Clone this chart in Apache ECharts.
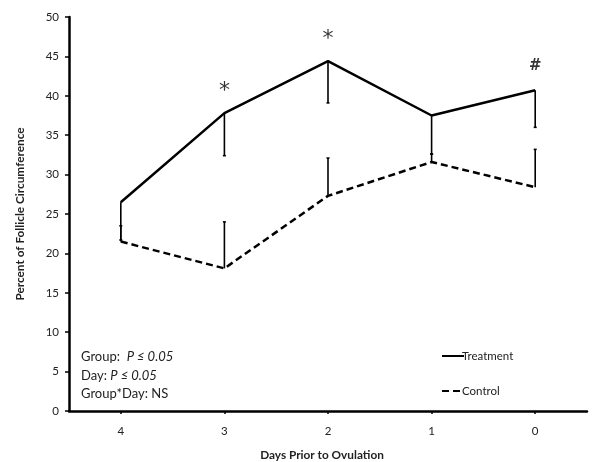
<!DOCTYPE html>
<html><head><meta charset="utf-8">
<script src="https://cdn.jsdelivr.net/npm/echarts@6/dist/echarts.min.js"></script>
<style>html,body{margin:0;padding:0;background:#fff}#c{width:594px;height:462px}</style>
</head><body><div id="c"></div>
<script>
const days = ['4', '3', '2', '1', '0'];
const treatment = [26.5, 37.8, 44.4, 37.5, 40.7];
const treatmentErrLow = [21.7, 32.4, 39.1, 32.6, 36.0];
const control = [21.5, 18.1, 27.3, 31.6, 28.4];
const controlErrHigh = [23.5, 24.0, 32.1, 32.6, 33.2];
const yTicks = { min: 0, max: 50, step: 5 };
const annotDays = [1, 2, 4];
const annotText = ['*', '*', '#'];
const annotLevel = [40.6, 47.2, 43.8];

const FONT = 'Lato, "Open Sans", sans-serif';
const chart = echarts.init(document.getElementById('c'));

function errData(means, ends) {
  return means.map((m, i) => [i, m, ends[i]]);
}
function errRender(params, api) {
  const p0 = api.coord([api.value(0), api.value(1)]);
  const p1 = api.coord([api.value(0), api.value(2)]);
  const cap = 1.5;
  return {
    type: 'group',
    children: [
      { type: 'line', shape: { x1: p0[0], y1: p0[1], x2: p1[0], y2: p1[1] }, style: { stroke: '#000', lineWidth: 1.6 } },
      { type: 'line', shape: { x1: p1[0] - cap, y1: p1[1], x2: p1[0] + cap, y2: p1[1] }, style: { stroke: '#000', lineWidth: 1.6 } }
    ]
  };
}

chart.setOption({
  animation: false,
  backgroundColor: '#fff',
  textStyle: { fontFamily: FONT },
  grid: { left: 69, right: 7, top: 17, bottom: 51, containLabel: false, outerBoundsMode: 'none' },
  legend: {
    data: ['Treatment', 'Control'],
    orient: 'vertical',
    left: 436, top: 345,
    itemWidth: 22, itemHeight: 10, itemGap: 23,
    itemStyle: { opacity: 0 },
    textStyle: { fontFamily: FONT, fontSize: 11.5, color: '#222', padding: [0, 0, 0, -7] }
  },
  xAxis: {
    type: 'category',
    data: days,
    boundaryGap: true,
    name: 'Days Prior to Ovulation',
    nameLocation: 'middle',
    nameGap: 38,
    nameTextStyle: { fontFamily: FONT, fontSize: 11.8, fontWeight: 'bold', color: '#222', padding: [0, 12, 0, 0] },
    axisLine: { lineStyle: { color: '#000', width: 2.5 } },
    axisTick: { show: true, alignWithLabel: true, length: 3, lineStyle: { color: '#000', width: 1.5 } },
    axisLabel: { fontFamily: FONT, fontSize: 11.5, color: '#222', margin: 14 },
    splitLine: { show: false }
  },
  yAxis: {
    type: 'value',
    min: yTicks.min, max: yTicks.max, interval: yTicks.step,
    name: 'Percent of Follicle Circumference',
    nameLocation: 'middle',
    nameGap: 43,
    nameTextStyle: { fontFamily: FONT, fontSize: 11.8, fontWeight: 'bold', color: '#222' },
    axisLine: { show: true, lineStyle: { color: '#000', width: 2.5 } },
    axisTick: { show: true, length: 4, lineStyle: { color: '#000', width: 1.5 } },
    axisLabel: { fontFamily: FONT, fontSize: 11.5, color: '#222', margin: 10 },
    splitLine: { show: false }
  },
  series: [
    {
      name: 'Treatment', type: 'line', data: treatment,
      symbol: 'none', lineStyle: { color: '#000', width: 2.5, type: 'solid' },
      itemStyle: { color: '#000' }, z: 3
    },
    {
      name: 'Control', type: 'line', data: control,
      symbol: 'none', lineStyle: { color: '#000', width: 2.5, type: [7, 4] },
      itemStyle: { color: '#000' }, z: 3
    },
    {
      name: 'TreatmentErr', type: 'custom', renderItem: errRender,
      data: errData(treatment, treatmentErrLow), z: 2
    },
    {
      name: 'ControlErr', type: 'custom', renderItem: errRender,
      data: errData(control, controlErrHigh), z: 2
    },
    {
      name: 'Annot', type: 'scatter', symbolSize: 0,
      data: annotDays.map((d, i) => [d, annotLevel[i]]),
      label: {
        show: true, position: 'inside',
        formatter: p => annotText[p.dataIndex] === '*' ? '{a|*}' : '{h|#}',
        rich: {
          a: { fontFamily: '"DejaVu Sans", sans-serif', fontSize: 22, color: '#000' },
          h: { fontFamily: '"DejaVu Sans", sans-serif', fontSize: 15, fontWeight: 'bold', color: '#000' }
        }
      },
      z: 4
    }
  ],
  graphic: [
    {
      type: 'text', left: 81, top: 348,
      style: {
        text: '{n|Group:  }{i|P ≤ 0.05}\n{n|Day: }{i|P ≤ 0.05}\n{n|Group*Day: NS}',
        fontFamily: FONT, fontSize: 13, lineHeight: 18.5, fill: '#222',
        rich: {
          n: { fontFamily: FONT, fontSize: 13, fill: '#222', lineHeight: 18.5 },
          i: { fontFamily: FONT, fontSize: 13, fontStyle: 'italic', fill: '#222', lineHeight: 18.5 }
        }
      }
    }
  ]
});
</script>
</body></html>
